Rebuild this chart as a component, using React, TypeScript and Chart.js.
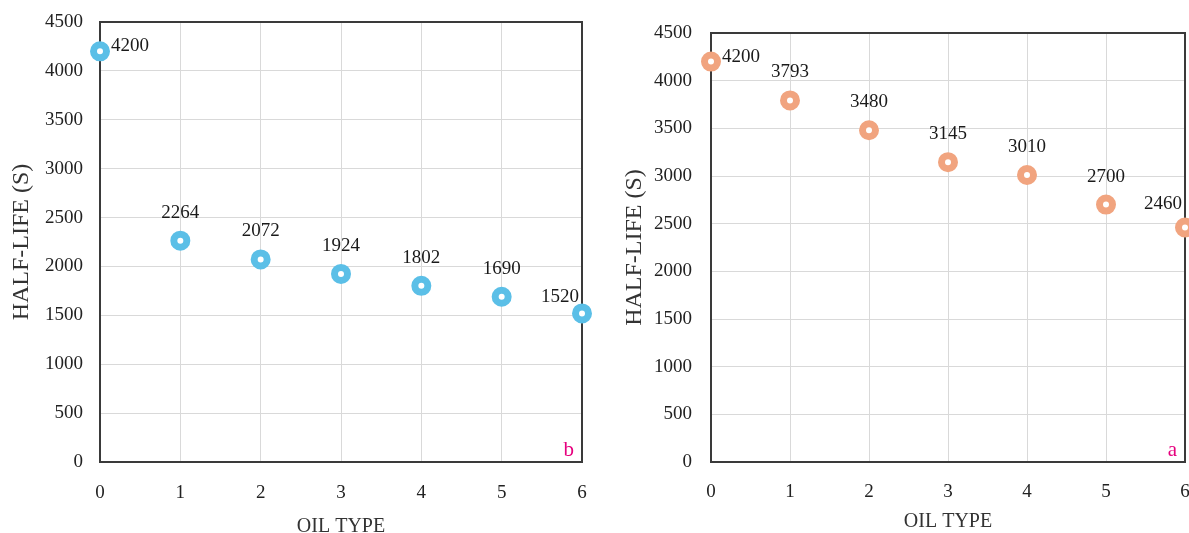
import React, { useEffect, useRef } from "react";
import { Chart, registerables } from "chart.js";

Chart.register(...registerables);

// Oil type index on the horizontal axis
const oilTypes = [0, 1, 2, 3, 4, 5, 6];
// Half-life values (s) for panel b (blue) and panel a (orange)
const halfLifeB = [4200, 2264, 2072, 1924, 1802, 1690, 1520];
const halfLifeA = [4200, 3793, 3480, 3145, 3010, 2700, 2460];

const FONT = "'Liberation Serif', 'Times New Roman', serif";
const CANVAS_H = 540;

type Panel = {
  values: number[];
  color: string;
  letter: string;
  left: number;
  width: number;
  pad: { top: number; right: number; left: number; bottom: number };
  yAxisWidth: number;
  yTickPad: number;
  xTickPad: number;
  yTitlePad: number;
  xTitlePad: number;
  lastLabelRise: number;
};

const panels: Panel[] = [
  {
    values: halfLifeB,
    color: "#5BBFE7",
    letter: "b",
    left: 0,
    width: 600,
    pad: { top: 22, right: 18, left: 0, bottom: 0 },
    yAxisWidth: 100,
    yTickPad: 17,
    xTickPad: 20,
    yTitlePad: 7,
    xTitlePad: 1,
    lastLabelRise: 16,
  },
  {
    values: halfLifeA,
    color: "#F1A47F",
    letter: "a",
    left: 610,
    width: 600,
    pad: { top: 33, right: 25, left: 0, bottom: 0 },
    yAxisWidth: 101,
    yTickPad: 19,
    xTickPad: 19,
    yTitlePad: 10,
    xTitlePad: 6,
    lastLabelRise: 23,
  },
];

function ScatterPanel({ panel }: { panel: Panel }) {
  const ref = useRef<HTMLCanvasElement | null>(null);

  useEffect(() => {
    if (!ref.current) return;

    // Frame around the plot area, drawn under the markers
    const framePlugin = {
      id: "frame",
      beforeDatasetsDraw(chart: any) {
        const { ctx, chartArea: a } = chart;
        ctx.save();
        ctx.strokeStyle = "#3a3a3a";
        ctx.lineWidth = 2;
        ctx.strokeRect(a.left, a.top, a.right - a.left, a.bottom - a.top);
        ctx.restore();
      },
    };

    // Value labels next to each marker plus the panel letter
    const labelPlugin = {
      id: "valueLabels",
      afterDatasetsDraw(chart: any) {
        const { ctx, chartArea: a } = chart;
        const meta = chart.getDatasetMeta(0);
        const n = meta.data.length;
        ctx.save();
        ctx.font = `19px ${FONT}`;
        ctx.fillStyle = "#1a1a1a";
        ctx.textBaseline = "middle";
        meta.data.forEach((pt: any, i: number) => {
          const text = String(panel.values[i]);
          if (i === 0) {
            ctx.textAlign = "left";
            ctx.fillText(text, pt.x + 11, pt.y - 5);
          } else if (i === n - 1) {
            ctx.textAlign = "right";
            ctx.fillText(text, pt.x - 3, pt.y - panel.lastLabelRise);
          } else {
            ctx.textAlign = "center";
            ctx.fillText(text, pt.x, pt.y - 28);
          }
        });
        ctx.font = `21px ${FONT}`;
        ctx.fillStyle = "#E6007E";
        ctx.textAlign = "right";
        ctx.textBaseline = "alphabetic";
        ctx.fillText(panel.letter, a.right - 8, a.bottom - 6);
        ctx.restore();
      },
    };

    const chart = new Chart(ref.current, {
      type: "scatter",
      data: {
        datasets: [
          {
            data: oilTypes.map((x, i) => ({ x, y: panel.values[i] })),
            borderColor: panel.color,
            backgroundColor: "#ffffff",
            pointRadius: 6.5,
            pointBorderWidth: 7,
            clip: false as any,
          },
        ],
      },
      options: {
        animation: false,
        responsive: false,
        maintainAspectRatio: false,
        layout: { padding: panel.pad },
        plugins: { legend: { display: false }, tooltip: { enabled: false } },
        scales: {
          x: {
            type: "linear",
            min: 0,
            max: 6,
            afterFit(scale: any) {
              scale.height = CANVAS_H - 462;
              scale.paddingLeft = 0;
              scale.paddingRight = 0;
            },
            ticks: {
              stepSize: 1,
              padding: panel.xTickPad,
              color: "#222",
              font: { family: FONT, size: 19 },
              callback: (v: any) => String(v),
            },
            grid: { color: "#d9d9d9", lineWidth: 1, drawTicks: false },
            border: { display: false },
            title: {
              display: true,
              text: "OIL TYPE",
              color: "#333",
              font: { family: FONT, size: 20 },
              padding: { top: 0, bottom: panel.xTitlePad },
            },
          },
          y: {
            min: 0,
            max: 4500,
            afterFit(scale: any) {
              scale.width = panel.yAxisWidth;
              scale.paddingTop = 0;
              scale.paddingBottom = 0;
            },
            ticks: {
              stepSize: 500,
              padding: panel.yTickPad,
              color: "#222",
              font: { family: FONT, size: 19 },
              callback: (v: any) => String(v),
            },
            grid: { color: "#d9d9d9", lineWidth: 1, drawTicks: false },
            border: { display: false },
            title: {
              display: true,
              text: "HALF-LIFE (S)",
              color: "#333",
              font: { family: FONT, size: 24 },
              padding: { top: panel.yTitlePad, bottom: 0 },
            },
          },
        },
      },
      plugins: [framePlugin, labelPlugin],
    });

    return () => chart.destroy();
  }, [panel]);

  return (
    <canvas
      ref={ref}
      width={panel.width}
      height={CANVAS_H}
      style={{ position: "absolute", left: panel.left, top: 0, width: panel.width, height: CANVAS_H }}
    />
  );
}

export default function App() {
  return (
    <div
      style={{
        position: "fixed",
        left: 0,
        top: 0,
        width: 1189,
        height: 533,
        background: "#ffffff",
        overflow: "hidden",
      }}
    >
      {panels.map((p) => (
        <ScatterPanel key={p.letter} panel={p} />
      ))}
    </div>
  );
}
